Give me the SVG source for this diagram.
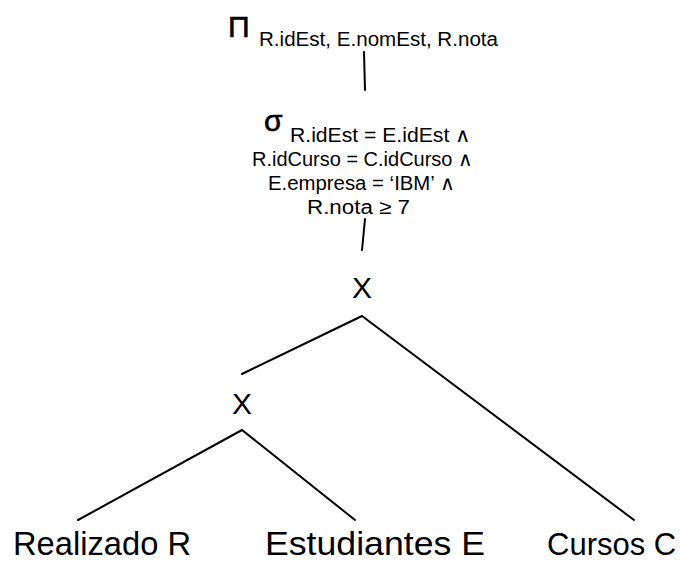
<svg xmlns="http://www.w3.org/2000/svg" width="680" height="563" viewBox="0 0 680 563">
  <style>
    text { font-family: "Liberation Sans", Arial, sans-serif; fill: #000; }
    .op { font-size: 30px; }
    .sub { font-size: 20px; }
    .cond { font-size: 20px; }
    .rel { font-size: 33px; }
    .rel-narrow { font-size: 31px; }
    .edge { stroke: #000; stroke-width: 2; fill: none; stroke-linecap: round; }
  </style>
  <rect width="680" height="563" fill="#fff"/>

  <!-- tree edges -->
  <g id="connectors">
    <line class="edge" x1="364" y1="52" x2="365" y2="90"/>
    <line class="edge" x1="365" y1="219" x2="362" y2="250"/>
    <line class="edge" x1="362" y1="316" x2="242" y2="374"/>
    <line class="edge" x1="362" y1="316" x2="634" y2="520"/>
    <line class="edge" x1="242" y1="430" x2="78" y2="520"/>
    <line class="edge" x1="242" y1="430" x2="355" y2="520"/>
  </g>

  <!-- projection -->
  <g id="projection">
    <text class="op" x="228" y="37" stroke="#000" stroke-width="0.6">Π</text>
    <text class="sub" x="259" y="46" textLength="239" lengthAdjust="spacingAndGlyphs">R.idEst, E.nomEst, R.nota</text>
  </g>

  <!-- selection -->
  <g id="selection">
    <text class="op" x="264" y="131" stroke="#000" stroke-width="0.6">σ</text>
    <text class="cond" x="290" y="142" textLength="181" lengthAdjust="spacingAndGlyphs">R.idEst = E.idEst ∧</text>
    <text class="cond" x="252" y="166" textLength="221" lengthAdjust="spacingAndGlyphs">R.idCurso = C.idCurso ∧</text>
    <text class="cond" x="268" y="190" textLength="187" lengthAdjust="spacingAndGlyphs">E.empresa = ‘IBM’ ∧</text>
    <text class="cond" x="307" y="214" textLength="103" lengthAdjust="spacingAndGlyphs">R.nota ≥ 7</text>
  </g>

  <!-- cartesian products -->
  <g id="product-top">
    <text class="op" x="362" y="298" text-anchor="middle">X</text>
  </g>
  <g id="product-bottom">
    <text class="op" x="242" y="414" text-anchor="middle">X</text>
  </g>

  <!-- base relations -->
  <g id="rel-realizado">
    <text class="rel" x="13" y="555" textLength="178" lengthAdjust="spacingAndGlyphs">Realizado R</text>
  </g>
  <g id="rel-estudiantes">
    <text class="rel" x="265" y="555" textLength="220" lengthAdjust="spacingAndGlyphs">Estudiantes E</text>
  </g>
  <g id="rel-cursos">
    <text class="rel-narrow" x="547" y="555">Cursos C</text>
  </g>
</svg>
